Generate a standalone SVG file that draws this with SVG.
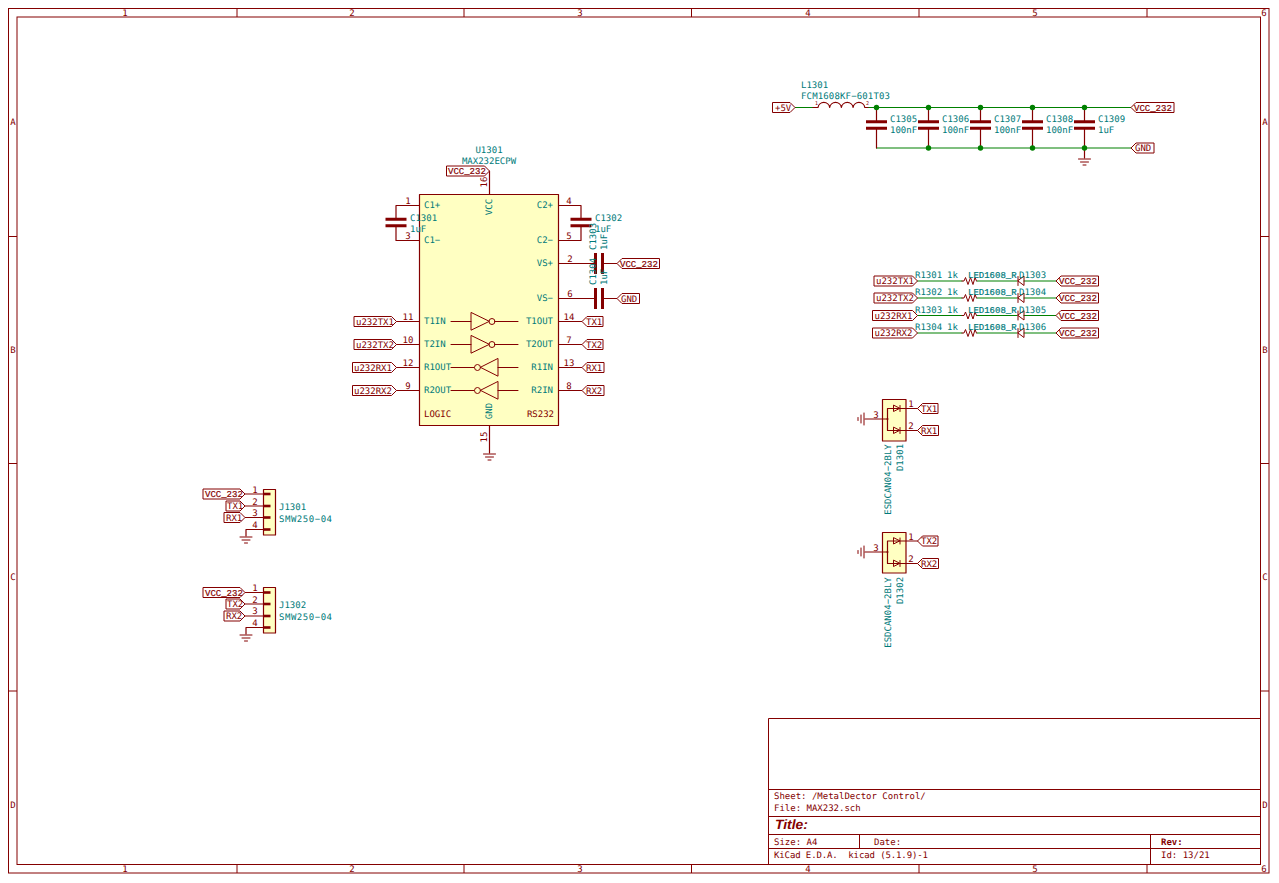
<svg xmlns="http://www.w3.org/2000/svg" width="1279" height="883" viewBox="0 0 1279 883">
<style>
text{font-family:"DejaVu Sans Mono","Liberation Mono",monospace;font-size:9px;text-rendering:geometricPrecision}
.f{fill:#007a7a}.r{fill:#840000}.e{text-anchor:end}.m{text-anchor:middle}
text.u{font-family:"Liberation Mono","DejaVu Sans Mono",monospace;stroke-width:.2px}
text.u.r{stroke:#840000}text.u.f{stroke:#007a7a}
.l,.s,.p,.w,.b{fill:none;stroke-linecap:round;stroke-linejoin:round}
.l,.s,.p{stroke:#840000;stroke-width:1}
.p{stroke-width:1.2}
.w{stroke:#008000;stroke-width:1.1}
.b{fill:#ffffc2;stroke:#840000;stroke-width:1.2}
.lab{fill:#fff;stroke:#840000;stroke-width:1}
.pl{fill:none;stroke:#840000;stroke-width:3}
.j{fill:#008000}
.tb{fill:none;stroke:#840000;stroke-width:1}
</style>
<defs>
<g id="gnd"><path class="s" d="M-6 0H6M-4 3H4M-1.500 6H1.500"/></g>
<g id="gndL"><path class="s" d="M0 -6V6M-3 -4V4M-6 -1.500V1.500"/></g>
<g id="capV"><path class="pl" d="M-10.500 -3.300H10.500M-10.500 3.300H10.500"/></g>
<g id="capH"><path class="pl" d="M-3.500 -10.500V10.500M3.500 -10.500V10.500"/></g>
<g id="res"><path class="s" d="M0 0L2 0L3.500 -3.500L6 3.500L8.500 -3.500L11 3.500L13 -3.500L14.500 0"/></g>
<g id="led"><path class="s" d="M1 -4.500V4.500M7 -4.500V4.500L1 0Z"/></g>
<g id="invR"><path class="s" d="M451 0H471M471 -8.700V8.700L489 0ZM495 0H518"/><circle class="s" cx="492" cy="0" r="3"/></g>
<g id="invL"><path class="s" d="M518 0H498M498 -8.700V8.700L480.700 0ZM474 0H451"/><circle class="s" cx="477.500" cy="0" r="3"/></g>
<g id="esdD"><path class="s" d="M5.500 -3V3L11.500 0ZM12 -3V3"/></g>
<g id="stub"><path d="M0 -1.300H7V1.300H0Z" fill="#840000"/></g>
</defs>

<g id="frame">
<rect class="tb" x="8.500" y="8.500" width="1260.500" height="864.500"/>
<rect class="tb" x="17" y="17" width="1243.500" height="847.500"/>
<path class="tb" d="M237 8.500V17M464 8.500V17M691.500 8.500V17M919 8.500V17M1147 8.500V17M237 864.500V873M464 864.500V873M691.500 864.500V873M919 864.500V873M1147 864.500V873M8.500 236.500H17M8.500 463.500H17M8.500 691H17M1260.500 236.500H1269M1260.500 463.500H1269M1260.500 691H1269"/>
<g class="r m">
<text x="125" y="16">1</text><text x="352" y="16">2</text><text x="580" y="16">3</text><text x="808" y="16">4</text><text x="1035" y="16">5</text><text x="1264" y="16">6</text>
<text x="125" y="872">1</text><text x="352" y="872">2</text><text x="580" y="872">3</text><text x="808" y="872">4</text><text x="1035" y="872">5</text><text x="1264" y="872">6</text>
<text x="13" y="125">A</text><text x="13" y="353">B</text><text x="13" y="580">C</text><text x="13" y="808">D</text>
<text x="1265" y="125">A</text><text x="1265" y="353">B</text><text x="1265" y="580">C</text><text x="1265" y="808">D</text>
</g>
</g>

<g id="title-block">
<path class="tb" d="M768.500 864.500V718.500H1260.500M768.500 789.500H1260.500M768.500 816.500H1260.500M768.500 834.500H1260.500M768.500 848.500H1260.500M859.500 834.500V848.500M1150.500 834.500V864.500"/>
<text class="r" x="774" y="799">Sheet: /MetalDector Control/</text>
<text class="r" x="774" y="811">File: MAX232.sch</text>
<text class="r" x="775" y="829" textLength="33" lengthAdjust="spacingAndGlyphs" style="font-family:'Liberation Sans',sans-serif;font-size:13.500px;font-weight:bold;font-style:italic">Title:</text>
<text class="r" x="774" y="845">Size: A4</text>
<text class="r" x="874" y="845">Date:</text>
<text class="r" x="1161" y="845" style="font-weight:bold">Rev:</text>
<text class="r" x="774" y="858" xml:space="preserve" textLength="154">KiCad E.D.A.  kicad (5.1.9)-1</text>
<text class="r" x="1161" y="858">Id: 13/21</text>
</g>

<g id="connectors">
<path class="w" d="M795 107.500H813M868 107.500H1131M876.500 148H1131"/>
<path class="w" d="M917.500 281H962M977 281H1017M1024 281H1056M917.500 298H962M977 298H1017M1024 298H1056M917.500 315.500H962M977 315.500H1017M1024 315.500H1056M917.500 333H962M977 333H1017M1024 333H1056"/>
</g>

<g id="U1301">
<rect class="b" x="419.500" y="194.500" width="139" height="231"/>
<path class="p" d="M489.500 194.500V171M489.500 425.500V453M419.500 205.500H396V219M396 226V240.500H419.500M558.500 205.500H581V219M581 226V240.500H558.500M558.500 263.500H595M603 263.500H617M558.500 298.500H595M603 298.500H617M396.500 321.500H419.500M396.500 344.500H419.500M396.500 367.500H419.500M396.500 390.500H419.500M558.500 321.500H582M558.500 344.500H582M558.500 367.500H582M558.500 390.500H582"/>
<use href="#gnd" x="489.500" y="454"/>
<use href="#invR" y="321.500"/><use href="#invR" y="344.500"/><use href="#invL" y="367.500"/><use href="#invL" y="390.500"/>
<text class="f m" x="489" y="153">U1301</text>
<text class="f m" x="489" y="164">MAX232ECPW</text>
<g class="f">
<text x="424" y="208">C1+</text><text x="424" y="243">C1−</text>
<text x="424" y="324">T1IN</text><text x="424" y="347">T2IN</text><text x="424" y="370">R1OUT</text><text x="424" y="393">R2OUT</text>
<text class="e" x="553" y="208">C2+</text><text class="e" x="553" y="243">C2−</text><text class="e" x="553" y="266">VS+</text><text class="e" x="553" y="301">VS−</text>
<text class="e" x="553" y="324">T1OUT</text><text class="e" x="553" y="347">T2OUT</text><text class="e" x="553" y="370">R1IN</text><text class="e" x="553" y="393">R2IN</text>
<text class="m" transform="translate(492 207) rotate(-90)">VCC</text>
<text class="m" transform="translate(492 411) rotate(-90)">GND</text>
</g>
<text class="r" x="424" y="417">LOGIC</text>
<text class="r e" x="554" y="417">RS232</text>
<g class="r m">
<text x="408" y="204">1</text><text x="408" y="239">3</text><text x="408" y="320">11</text><text x="408" y="343">10</text><text x="408" y="366">12</text><text x="408" y="389">9</text>
<text x="569" y="204">4</text><text x="569" y="239">5</text><text x="570" y="262">2</text><text x="570" y="297">6</text><text x="569" y="320">14</text><text x="569" y="343">7</text><text x="569" y="366">13</text><text x="569" y="389">8</text>
<text transform="translate(487 182) rotate(-90)">16</text>
<text transform="translate(487 437) rotate(-90)">15</text>
</g>
</g>

<g id="U1301-labels">
<path class="lab" d="M446.500 166H484.500L489.500 171L484.500 176H446.500Z"/><text class="r u" x="448" y="174">VCC_232</text>
<path class="lab" d="M354 316.500H391.500L396.500 321.500L391.500 326.500H354Z"/><text class="r" x="356" y="324.500">u232TX1</text>
<path class="lab" d="M354 339.500H391.500L396.500 344.500L391.500 349.500H354Z"/><text class="r" x="356" y="347.500">u232TX2</text>
<path class="lab" d="M352.500 362.500H391.500L396.500 367.500L391.500 372.500H352.500Z"/><text class="r" x="354" y="370.500">u232RX1</text>
<path class="lab" d="M352.500 385.500H391.500L396.500 390.500L391.500 395.500H352.500Z"/><text class="r" x="354" y="393.500">u232RX2</text>
<path class="lab" d="M582 321.500L587 316.500H603V326.500H587Z"/><text class="r" x="586" y="324.500">TX1</text>
<path class="lab" d="M582 344.500L587 339.500H603V349.500H587Z"/><text class="r" x="586" y="347.500">TX2</text>
<path class="lab" d="M582 367.500L587 362.500H604V372.500H587Z"/><text class="r" x="586" y="370.500">RX1</text>
<path class="lab" d="M582 390.500L587 385.500H604V395.500H587Z"/><text class="r" x="586" y="393.500">RX2</text>
<path class="lab" d="M617 263.500L622 258.500H659.500V268.500H622Z"/><text class="r u" x="620" y="266.500">VCC_232</text>
<path class="lab" d="M617 298.500L622 293.500H639.500V303.500H622Z"/><text class="r" x="621" y="301.500">GND</text>
</g>

<g id="C1301"><use href="#capV" x="396" y="222.500"/><text class="f" x="410" y="221">C1301</text><text class="f" x="410" y="232">1uF</text></g>
<g id="C1302"><use href="#capV" x="581" y="222.500"/><text class="f" x="595" y="221">C1302</text><text class="f" x="595" y="232">1uF</text></g>
<g id="C1303"><use href="#capH" x="599" y="263.500"/><text class="f" transform="translate(596 250) rotate(-90)">C1303</text><text class="f" transform="translate(607 250) rotate(-90)">1uF</text></g>
<g id="C1304"><use href="#capH" x="599" y="298.500"/><text class="f" transform="translate(596 285) rotate(-90)">C1304</text><text class="f" transform="translate(607 285) rotate(-90)">1uF</text></g>

<g id="L1301">
<path class="p" d="M813 107.500H818A5.900 5.900 0 0 1 829.700 107.500A5.900 5.900 0 0 1 841.400 107.500A5.900 5.900 0 0 1 853.100 107.500A5.900 5.900 0 0 1 864.800 107.500H868"/>
<text class="f" x="801" y="88">L1301</text>
<text class="f" x="801" y="99" textLength="89">FCM1608KF−601T03</text>
<text class="r" x="815" y="105" style="font-size:5px">1</text><text class="r" x="866" y="105" style="font-size:5px">2</text>
</g>
<g id="C1305"><path class="p" d="M876.500 107.500V121M876.500 128V148"/><use href="#capV" x="876.500" y="125"/><text class="f" x="890" y="122">C1305</text><text class="f" x="890" y="133">100nF</text></g>
<g id="C1306"><path class="p" d="M928.500 107.500V121M928.500 128V148"/><use href="#capV" x="928.500" y="125"/><text class="f" x="942" y="122">C1306</text><text class="f" x="942" y="133">100nF</text></g>
<g id="C1307"><path class="p" d="M980.500 107.500V121M980.500 128V148"/><use href="#capV" x="980.500" y="125"/><text class="f" x="994" y="122">C1307</text><text class="f" x="994" y="133">100nF</text></g>
<g id="C1308"><path class="p" d="M1032.500 107.500V121M1032.500 128V148"/><use href="#capV" x="1032.500" y="125"/><text class="f" x="1046" y="122">C1308</text><text class="f" x="1046" y="133">100nF</text></g>
<g id="C1309"><path class="p" d="M1084.500 107.500V121M1084.500 128V158"/><use href="#capV" x="1084.500" y="125"/><text class="f" x="1098" y="122">C1309</text><text class="f" x="1098" y="133">1uF</text><use href="#gnd" x="1084.500" y="159"/></g>
<g id="junctions">
<circle class="j" cx="876.500" cy="107.500" r="2.700"/><circle class="j" cx="928.500" cy="107.500" r="2.700"/><circle class="j" cx="980.500" cy="107.500" r="2.700"/><circle class="j" cx="1032.500" cy="107.500" r="2.700"/><circle class="j" cx="1084.500" cy="107.500" r="2.700"/>
<circle class="j" cx="928.500" cy="148" r="2.700"/><circle class="j" cx="980.500" cy="148" r="2.700"/><circle class="j" cx="1032.500" cy="148" r="2.700"/><circle class="j" cx="1084.500" cy="148" r="2.700"/>
</g>
<g id="power-labels">
<path class="lab" d="M772.500 102.500H790L795 107.500L790 112.500H772.500Z"/><text class="r" x="775" y="110.500">+5V</text>
<path class="lab" d="M1131 107.500L1136 102.500H1174V112.500H1136Z"/><text class="r u" x="1134" y="110.500">VCC_232</text>
<path class="lab" d="M1131 148L1136 143H1154V153H1136Z"/><text class="r" x="1135" y="151">GND</text>
</g>

<g id="R1301"><use href="#res" x="962" y="281"/><text class="f" x="915" y="278">R1301</text><text class="f" x="947" y="278">1k</text></g>
<g id="D1303"><use href="#led" x="1017" y="281"/><text class="f u" x="968" y="278">LED1608_R</text><text class="f" x="1019" y="278">D1303</text></g>
<g id="R1302"><use href="#res" x="962" y="298"/><text class="f" x="915" y="295">R1302</text><text class="f" x="947" y="295">1k</text></g>
<g id="D1304"><use href="#led" x="1017" y="298"/><text class="f u" x="968" y="295">LED1608_R</text><text class="f" x="1019" y="295">D1304</text></g>
<g id="R1303"><use href="#res" x="962" y="315.500"/><text class="f" x="915" y="312.500">R1303</text><text class="f" x="947" y="312.500">1k</text></g>
<g id="D1305"><use href="#led" x="1017" y="315.500"/><text class="f u" x="968" y="312.500">LED1608_R</text><text class="f" x="1019" y="312.500">D1305</text></g>
<g id="R1304"><use href="#res" x="962" y="333"/><text class="f" x="915" y="330">R1304</text><text class="f" x="947" y="330">1k</text></g>
<g id="D1306"><use href="#led" x="1017" y="333"/><text class="f u" x="968" y="330">LED1608_R</text><text class="f" x="1019" y="330">D1306</text></g>
<g id="led-labels">
<path class="lab" d="M874 276H912.500L917.500 281L912.500 286H874Z"/><text class="r" x="876" y="284">u232TX1</text>
<path class="lab" d="M874 293H912.500L917.500 298L912.500 303H874Z"/><text class="r" x="876" y="301">u232TX2</text>
<path class="lab" d="M872.500 310.500H912.500L917.500 315.500L912.500 320.500H872.500Z"/><text class="r" x="874.500" y="318.500">u232RX1</text>
<path class="lab" d="M872.500 328H912.500L917.500 333L912.500 338H872.500Z"/><text class="r" x="874.500" y="336">u232RX2</text>
<path class="lab" d="M1056 281L1061 276H1098.500V286H1061Z"/><text class="r u" x="1059" y="284">VCC_232</text>
<path class="lab" d="M1056 298L1061 293H1098.500V303H1061Z"/><text class="r u" x="1059" y="301">VCC_232</text>
<path class="lab" d="M1056 315.500L1061 310.500H1098.500V320.500H1061Z"/><text class="r u" x="1059" y="318.500">VCC_232</text>
<path class="lab" d="M1056 333L1061 328H1098.500V338H1061Z"/><text class="r u" x="1059" y="336">VCC_232</text>
</g>

<g id="D1301">
<rect class="b" x="882.500" y="399.500" width="23.500" height="41.500"/>
<path class="p" d="M865 419H887.500M887.500 408.500V430.500M887.500 408.500H917.500M887.500 430.500H917.500"/>
<circle cx="887.500" cy="419" r="1" fill="#840000"/>
<use href="#esdD" x="888" y="408.500"/><use href="#esdD" x="888" y="430.500"/>
<use href="#gndL" x="864" y="419"/>
<text class="r m" x="876" y="418">3</text><text class="r m" x="911" y="407">1</text><text class="r m" x="911" y="429">2</text>
<text class="f m" transform="translate(891 479.500) rotate(-90)">ESDCAN04−2BLY</text>
<text class="f m" transform="translate(903 457.500) rotate(-90)">D1301</text>
<path class="lab" d="M917.500 408.500L922.500 403.500H938V413.500H922.500Z"/><text class="r" x="921" y="411.500">TX1</text>
<path class="lab" d="M917.500 430.500L922.500 425.500H938.500V435.500H922.500Z"/><text class="r" x="921" y="433.500">RX1</text>
</g>
<g id="D1302">
<rect class="b" x="882.500" y="532.500" width="23.500" height="40.500"/>
<path class="p" d="M865 552H887.500M887.500 541V563.500M887.500 541H917.500M887.500 563.500H917.500"/>
<circle cx="887.500" cy="552" r="1" fill="#840000"/>
<use href="#esdD" x="888" y="541"/><use href="#esdD" x="888" y="563.500"/>
<use href="#gndL" x="864" y="552"/>
<text class="r m" x="876" y="551">3</text><text class="r m" x="911" y="540">1</text><text class="r m" x="911" y="562">2</text>
<text class="f m" transform="translate(891 612.500) rotate(-90)">ESDCAN04−2BLY</text>
<text class="f m" transform="translate(903 590.500) rotate(-90)">D1302</text>
<path class="lab" d="M917.500 541L922.500 536H938V546H922.500Z"/><text class="r" x="921" y="544">TX2</text>
<path class="lab" d="M917.500 563.500L922.500 558.500H938.500V568.500H922.500Z"/><text class="r" x="921" y="566.500">RX2</text>
</g>

<g id="J1301">
<rect class="b" x="263.500" y="489.500" width="12" height="45.500"/>
<path class="p" d="M245 494H263.500M245 506H263.500M245 517.500H263.500M263.500 529.500H246V536"/>
<use href="#stub" x="263.500" y="494"/><use href="#stub" x="263.500" y="506"/><use href="#stub" x="263.500" y="517.500"/><use href="#stub" x="263.500" y="529.500"/>
<use href="#gnd" x="246" y="537"/>
<text class="r m" x="255" y="493">1</text><text class="r m" x="255" y="505">2</text><text class="r m" x="255" y="516">3</text><text class="r m" x="255" y="528">4</text>
<text class="f" x="279" y="510">J1301</text><text class="f" x="279" y="521.500" textLength="53">SMW250−04</text>
<path class="lab" d="M203 489H240L245 494L240 499H203Z"/><text class="r u" x="205" y="497">VCC_232</text>
<path class="lab" d="M226 501H240L245 506L240 511H226Z"/><text class="r" x="227" y="509">TX1</text>
<path class="lab" d="M224 512.500H240L245 517.500L240 522.500H224Z"/><text class="r" x="226" y="520.500">RX1</text>
</g>
<g id="J1302">
<rect class="b" x="263.500" y="587.500" width="12" height="45.500"/>
<path class="p" d="M245 592.500H263.500M245 604H263.500M245 616H263.500M263.500 627.500H246V634"/>
<use href="#stub" x="263.500" y="592.500"/><use href="#stub" x="263.500" y="604"/><use href="#stub" x="263.500" y="616"/><use href="#stub" x="263.500" y="627.500"/>
<use href="#gnd" x="246" y="635"/>
<text class="r m" x="255" y="591">1</text><text class="r m" x="255" y="603">2</text><text class="r m" x="255" y="614">3</text><text class="r m" x="255" y="626">4</text>
<text class="f" x="279" y="608">J1302</text><text class="f" x="279" y="619.500" textLength="53">SMW250−04</text>
<path class="lab" d="M203 587.500H240L245 592.500L240 597.500H203Z"/><text class="r u" x="205" y="595.500">VCC_232</text>
<path class="lab" d="M226 599H240L245 604L240 609H226Z"/><text class="r" x="227" y="607">TX2</text>
<path class="lab" d="M224 611H240L245 616L240 621H224Z"/><text class="r" x="226" y="619">RX2</text>
</g>
</svg>
